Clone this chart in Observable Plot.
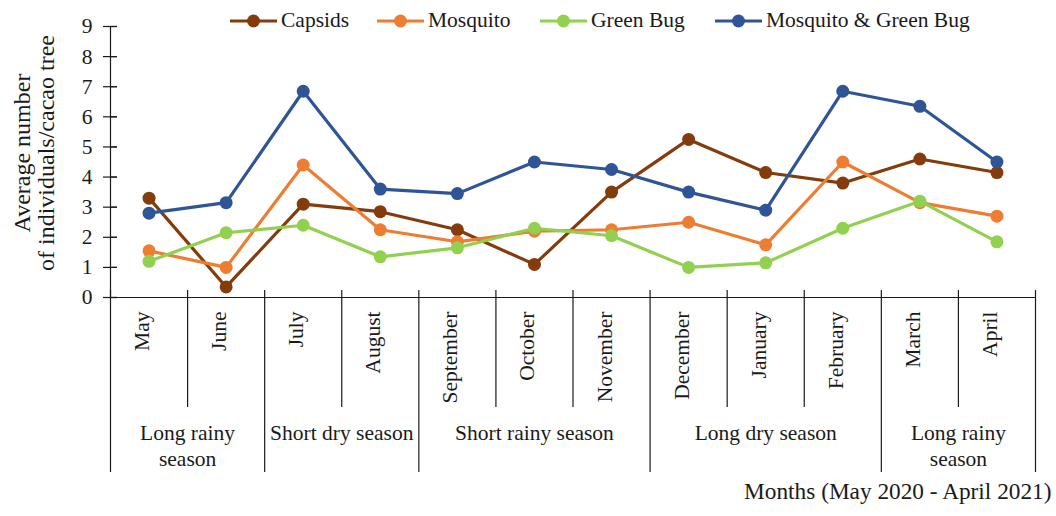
<!DOCTYPE html>
<html>
<head>
<meta charset="utf-8">
<script src="https://cdn.jsdelivr.net/npm/d3@7"></script>
<script src="https://cdn.jsdelivr.net/npm/@observablehq/plot@0.6"></script>
<style>
  html, body { margin: 0; padding: 0; background: #fff; }
  #wrap { position: relative; width: 1056px; height: 516px; font-family: "Liberation Serif", "Times New Roman", serif; color: #1a1a1a; }
  .item { position: absolute; top: 8px; display: flex; align-items: center; font-size: 21.5px; white-space: nowrap; }
  .item svg { margin-right: 4px; }
</style>
</head>
<body>
<div id="wrap"></div>
<script>
const months = ["May","June","July","August","September","October","November","December","January","February","March","April"];
const seriesNames = ["Capsids","Mosquito","Green Bug","Mosquito & Green Bug"];
const seriesColors = ["#843C0C","#ED7D31","#92D050","#2F5597"];
const capsids   = [3.3, 0.35, 3.1, 2.85, 2.25, 1.1, 3.5, 5.25, 4.15, 3.8, 4.6, 4.15];
const mosquito  = [1.55, 1.0, 4.4, 2.25, 1.85, 2.2, 2.25, 2.5, 1.75, 4.5, 3.15, 2.7];
const greenBug  = [1.2, 2.15, 2.4, 1.35, 1.65, 2.3, 2.05, 1.0, 1.15, 2.3, 3.2, 1.85];
const mosqGreen = [2.8, 3.15, 6.85, 3.6, 3.45, 4.5, 4.25, 3.5, 2.9, 6.85, 6.35, 4.5];
const seasonNames = ["Long rainy\nseason","Short dry season","Short rainy season","Long dry season","Long rainy\nseason"];
const seasonStart = [0, 2, 4, 7, 10];
const seasonEnd   = [2, 4, 7, 10, 12];
const yTicks = [0,1,2,3,4,5,6,7,8,9];
const yTitle = "Average number\nof individuals/cacao tree";
const xTitle = "Months (May 2020 - April 2021)";
const legendLeft = [230, 377, 540, 715];

const seriesValues = [capsids, mosquito, greenBug, mosqGreen];
const rows = [];
seriesNames.forEach((s, k) => seriesValues[k].forEach((v, i) => rows.push({series: s, i, month: months[i], value: v})));
const monthRows = months.map((m, i) => ({i, month: m}));
const seasons = seasonNames.map((n, k) => ({name: n, start: seasonStart[k], end: seasonEnd[k]}));
const majorBounds = [...new Set([...seasonStart, ...seasonEnd])];
const minorBounds = d3.range(months.length + 1).filter(b => !majorBounds.includes(b));

const font = "Liberation Serif, Times New Roman, serif";
const ink = "#1a1a1a";
const fs = 21.5;
const W = 1056, H = 516, mL = 110, mR = 21, mT = 26, mB = 219;
const frameH = H - mT - mB;

const marks = [
  Plot.ruleY([0], {stroke: ink, strokeWidth: 1.2}),
  Plot.ruleX([0], {stroke: ink, strokeWidth: 1.2}),
  Plot.ruleY(yTicks, {stroke: ink, strokeWidth: 1.2, insetRight: W - mL - mR - 7}),
  Plot.axisY(yTicks, {tickSize: 14, dx: 7, tickPadding: 11, fontSize: fs, fontFamily: font, fill: ink, stroke: ink, strokeWidth: 1.2, label: null}),
  Plot.ruleX(minorBounds, {stroke: ink, strokeWidth: 1.2, insetTop: frameH - 7, insetBottom: -110}),
  Plot.ruleX(majorBounds, {stroke: ink, strokeWidth: 1.2, insetTop: frameH - 7, insetBottom: -175}),
  Plot.text(monthRows, {x: d => d.i + 0.5, text: "month", frameAnchor: "bottom", rotate: -90, textAnchor: "end", dy: 14, fontSize: fs, fontFamily: font, fill: ink}),
  Plot.text(seasons, {x: d => (d.start + d.end) / 2, text: "name", frameAnchor: "bottom", lineAnchor: "top", dy: 125, lineHeight: 1.17, fontSize: fs, fontFamily: font, fill: ink}),
  Plot.text([yTitle], {frameAnchor: "left", textAnchor: "middle", rotate: -90, dx: -76, dy: -9, lineHeight: 1.0, fontSize: 24, fontFamily: font, fill: ink}),
  Plot.text([xTitle], {frameAnchor: "bottom-right", textAnchor: "end", dx: 16, dy: 201, fontSize: 23.3, fontFamily: font, fill: ink})
];
seriesNames.forEach((s, k) => {
  const data = rows.filter(r => r.series === s);
  marks.push(Plot.line(data, {x: d => d.i + 0.5, y: "value", stroke: seriesColors[k], strokeWidth: 3.2}));
  marks.push(Plot.dot(data, {x: d => d.i + 0.5, y: "value", fill: seriesColors[k], r: 6.5}));
});

const chart = Plot.plot({
  width: W, height: H,
  marginLeft: mL, marginRight: mR, marginTop: mT, marginBottom: mB,
  style: {fontFamily: font, fontSize: fs + "px", color: ink, background: "#fff"},
  x: {domain: [0, months.length], axis: null},
  y: {domain: [0, 9], axis: null},
  marks
});
const wrap = document.getElementById("wrap");
wrap.appendChild(chart);

seriesNames.forEach((s, k) => {
  const item = document.createElement("div");
  item.className = "item";
  item.style.left = legendLeft[k] + "px";
  item.innerHTML = `<svg width="47" height="16"><line x1="0" y1="8" x2="47" y2="8" stroke="${seriesColors[k]}" stroke-width="3"/><circle cx="23.5" cy="8" r="6.5" fill="${seriesColors[k]}"/></svg><span>${s}</span>`;
  wrap.appendChild(item);
});
</script>
</body>
</html>
